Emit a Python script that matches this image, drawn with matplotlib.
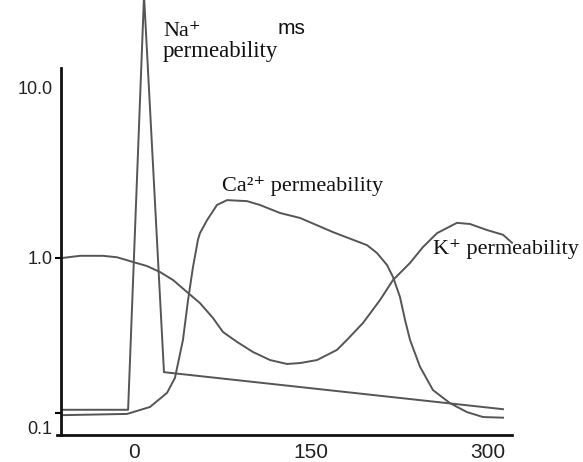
import matplotlib
matplotlib.use('Agg')
import matplotlib.pyplot as plt
from matplotlib.ticker import FixedLocator, NullFormatter

# time in ms, permeability (relative, log scale)
na_time = [-61, -5, 8.5, 25.4, 312.7]
na_perm = [0.128, 0.128, 35.0, 0.213, 0.129]

ca_time = [-61, -5.9, 13.6, 28.0, 34.7, 41.5, 45.8, 50.0, 54.2, 55.9, 61.9, 70.3,
           78.8, 95.8, 106.8, 123.7, 140.7, 168.6, 197.5, 205.9, 214.4, 219.5,
           225.4, 229.7, 233.9, 242.4, 253.4, 267.8, 282.2, 295.8, 312.7]
ca_perm = [0.119, 0.121, 0.133, 0.161, 0.197, 0.330, 0.566, 0.885, 1.28, 1.40, 1.67, 2.05,
           2.19, 2.16, 2.05, 1.84, 1.72, 1.42, 1.19, 1.07, 0.910, 0.773,
           0.590, 0.432, 0.330, 0.229, 0.167, 0.140, 0.124, 0.116, 0.115]

k_time = [-61, -45.8, -26.3, -14.4, -0.8, 11.0, 22.0, 33.1, 45.8, 55.9, 66.9, 75.4,
          87.3, 100.8, 115.3, 129.7, 140.7, 155.1, 172.0, 180.5, 194.1, 208.5,
          219.5, 233.9, 244.9, 256.8, 273.7, 284.7, 299.2, 312.7, 320.3]
k_perm = [1.0, 1.03, 1.03, 1.01, 0.947, 0.897, 0.827, 0.742, 0.623, 0.543, 0.444, 0.367,
          0.321, 0.280, 0.251, 0.238, 0.241, 0.251, 0.288, 0.330, 0.415, 0.566,
          0.742, 0.935, 1.16, 1.40, 1.61, 1.585, 1.46, 1.37, 1.23]

x_ticks = [0, 150, 300]
y_ticks = [0.1, 1.0, 10.0]
y_tick_labels = ['0.1', '1.0', '10.0']

W, H = 583, 462
fig = plt.figure(figsize=(W / 100, H / 100), dpi=100)
ax = fig.add_axes([0, 0, 1, 1])
ax.set_yscale('log')

# pixel -> data mapping, only used to place the axes frame
def t_of(px):
    return (px - 134) / 1.18

def v_of(py):
    return 10 ** ((258 - py) / 170)

ax.set_xlim(t_of(0), t_of(W))
ax.set_ylim(v_of(H), v_of(0))

line_kw = dict(color='#555555', linewidth=1.4)
ax.plot(na_time, na_perm, **line_kw)
ax.plot(ca_time, ca_perm, **line_kw)
ax.plot(k_time, k_perm, **line_kw)

for s in ['top', 'right']:
    ax.spines[s].set_visible(False)
ax.spines['left'].set_position(('data', t_of(61)))
ax.spines['left'].set_bounds(v_of(435), v_of(68))
ax.spines['bottom'].set_position(('data', v_of(435)))
ax.spines['bottom'].set_bounds(t_of(57), t_of(512))
for s in ['left', 'bottom']:
    ax.spines[s].set_linewidth(2)
    ax.spines[s].set_color('#111111')

ax.set_xticks(x_ticks)
ax.set_xticklabels([str(x) for x in x_ticks], fontsize=15, family='Liberation Sans', color='#222222')
ax.tick_params(axis='x', length=0, pad=6)

ax.yaxis.set_major_locator(FixedLocator(y_ticks))
ax.set_yticklabels(y_tick_labels, fontsize=13, family='Liberation Sans', color='#222222')
ax.yaxis.set_minor_locator(FixedLocator([0.122]))
ax.yaxis.set_minor_formatter(NullFormatter())
ax.tick_params(axis='y', which='major', length=4, width=1.5, pad=2)
ax.tick_params(axis='y', which='minor', length=4, width=1.5)
for i, tk in enumerate(ax.yaxis.get_major_ticks()):
    if i != 1:
        tk.tick1line.set_visible(False)

serif = ['Liberation Serif', 'DejaVu Serif']
def fig_text(x, y, s, **kw):
    fig.text(x / W, 1 - y / H, s, ha='left', va='center', color='#111111', **kw)

fig_text(163, 31, 'Na\u207a', family=serif, fontsize=16)
fig_text(163, 52, 'permeability', family=serif, fontsize=16.5)
fig_text(278, 28, 'ms', family='Liberation Sans', fontsize=15)
fig_text(222, 186, 'Ca\u00b2\u207a permeability', family=serif, fontsize=16)
fig_text(433, 249, 'K\u207a permeability', family=serif, fontsize=16)

fig.savefig('out.png', dpi=100)
